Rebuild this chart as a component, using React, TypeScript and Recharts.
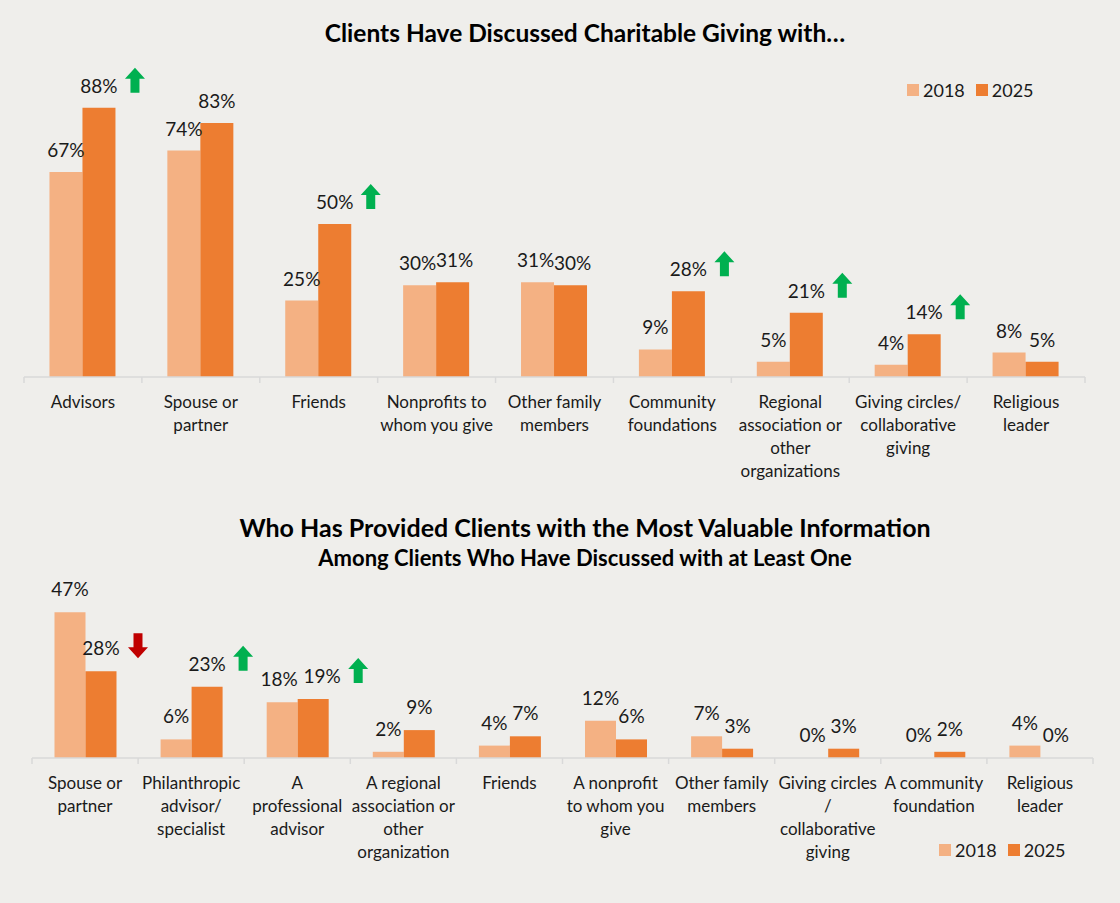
import React from "react";
import { Bar, BarChart, XAxis, YAxis } from "recharts";

// chart 1: who clients discussed charitable giving with
const topCategories = [
  "Advisors",
  "Spouse or\npartner",
  "Friends",
  "Nonprofits to\nwhom you give",
  "Other family\nmembers",
  "Community\nfoundations",
  "Regional\nassociation or\nother\norganizations",
  "Giving circles/\ncollaborative\ngiving",
  "Religious\nleader",
];
const top2018 = [67, 74, 25, 30, 31, 9, 5, 4, 8];
const top2025 = [88, 83, 50, 31, 30, 28, 21, 14, 5];
const topTrend = ["up", "", "up", "", "", "up", "up", "up", ""];

// chart 2: most valuable information
const bottomCategories = [
  "Spouse or\npartner",
  "Philanthropic\nadvisor/\nspecialist",
  "A\nprofessional\nadvisor",
  "A regional\nassociation or\nother\norganization",
  "Friends",
  "A nonprofit\nto whom you\ngive",
  "Other family\nmembers",
  "Giving circles\n/\ncollaborative\ngiving",
  "A community\nfoundation",
  "Religious\nleader",
];
const bottom2018 = [47, 6, 18, 2, 4, 12, 7, 0, 0, 4];
const bottom2025 = [28, 23, 19, 9, 7, 6, 3, 3, 2, 0];
const bottomTrend = ["down", "up", "up", "", "", "", "", "", "", ""];

const seriesNames = ["2018", "2025"];

const LIGHT = "#f4b183";
const DARK = "#ed7d31";
const AXIS = "#d9d9d9";
const BG = "#efeeeb";
const TEXT = "#1a1a1a";
const FONT = "Lato, 'Open Sans', sans-serif";

const topData = topCategories.map((name, i) => ({
  name,
  y2018: top2018[i],
  y2025: top2025[i],
}));
const bottomData = bottomCategories.map((name, i) => ({
  name,
  y2018: bottom2018[i],
  y2025: bottom2025[i],
}));

function makeTick(step: number, count: number) {
  return function Tick(props: any) {
    const { x, y, payload, index } = props;
    const lines = String(payload.value).split("\n");
    const left = x - step / 2;
    const right = x + step / 2;
    return (
      <g>
        <line x1={left} x2={left} y1={y} y2={y + 6} stroke={AXIS} strokeWidth={1.5} />
        {index === count - 1 && (
          <line x1={right} x2={right} y1={y} y2={y + 6} stroke={AXIS} strokeWidth={1.5} />
        )}
        <text x={x} y={y + 31} textAnchor="middle" fontSize={17} fill={TEXT} fontFamily={FONT}>
          {lines.map((l, i) => (
            <tspan key={i} x={x} dy={i === 0 ? 0 : 23}>
              {l}
            </tspan>
          ))}
        </text>
      </g>
    );
  };
}

function arrow(cx: number, top: number, bottom: number, dir: string) {
  const hw = 10;
  const sw = 4.5;
  const hh = 11;
  if (dir === "up") {
    return `M${cx},${top} L${cx + hw},${top + hh} L${cx + sw},${top + hh} L${cx + sw},${bottom} L${cx - sw},${bottom} L${cx - sw},${top + hh} L${cx - hw},${top + hh} Z`;
  }
  return `M${cx},${bottom} L${cx + hw},${bottom - hh} L${cx + sw},${bottom - hh} L${cx + sw},${top} L${cx - sw},${top} L${cx - sw},${bottom - hh} L${cx - hw},${bottom - hh} Z`;
}

// labels nudged sideways where they would collide (index -> px)
function makeLabel(offset: number, trend: string[] | null, nudge: Record<number, number> = {}) {
  return (props: any) => {
    const vb = props.viewBox || {};
    const x = Number(props.x ?? vb.x);
    const y = Number(props.y ?? vb.y);
    const w = Number(props.width ?? vb.width);
    const idx = props.index;
    const cx = x + w / 2 + (nudge[idx] || 0);
    const by = y - offset;
    const t = trend ? trend[idx] : "";
    return (
      <g>
        <text x={cx} y={by} textAnchor="middle" fontSize={19} fill={TEXT} fontFamily={FONT}>
          {props.value}%
        </text>
        {t === "up" && <path d={arrow(cx + 36, by - 25, by, "up")} fill="#00b050" />}
        {t === "down" && <path d={arrow(cx + 37, by - 22, by + 3, "down")} fill="#c00000" />}
      </g>
    );
  };
}

function YearLegend({ left, top }: { left: number; top: number }) {
  const colors = [LIGHT, DARK];
  return (
    <div
      style={{
        position: "absolute",
        left,
        top,
        display: "flex",
        alignItems: "center",
        height: 18,
        fontSize: 18,
        lineHeight: "18px",
        color: TEXT,
      }}
    >
      {seriesNames.map((n, i) => (
        <div key={n} style={{ display: "flex", alignItems: "center", marginRight: 11 }}>
          <span style={{ width: 12, height: 12, background: colors[i], marginRight: 4 }} />
          <span>{n}</span>
        </div>
      ))}
    </div>
  );
}

const titleStyle = (top: number, size: number): React.CSSProperties => ({
  position: "absolute",
  top,
  left: 85,
  width: 1000,
  textAlign: "center",
  fontSize: size,
  fontWeight: 700,
  lineHeight: `${size + 6}px`,
  color: "#000",
});

export default function App() {
  const topStep = (1120 - 24 - 35) / topCategories.length;
  const bottomStep = (1120 - 32 - 27) / bottomCategories.length;

  return (
    <div
      style={{
        position: "absolute",
        left: 0,
        top: 0,
        width: 1120,
        height: 903,
        background: BG,
        fontFamily: FONT,
        overflow: "hidden",
      }}
    >
      <div style={titleStyle(18, 24.5)}>Clients Have Discussed Charitable Giving with…</div>
      <div style={{ position: "absolute", left: 0, top: 0 }}>
        <BarChart
          width={1120}
          height={490}
          data={topData}
          margin={{ top: 71, right: 35, bottom: 83, left: 24 }}
          barCategoryGap="21.6%"
          barGap={0}
        >
          <XAxis
            dataKey="name"
            interval={0}
            height={30}
            tickLine={false}
            tickSize={0}
            tickMargin={0}
            axisLine={{ stroke: AXIS, strokeWidth: 1.5 }}
            tick={makeTick(topStep, topCategories.length)}
          />
          <YAxis hide domain={[0, 100]} />
          <Bar dataKey="y2018" name="2018" fill={LIGHT} minPointSize={0.01} isAnimationActive={false} label={makeLabel(15, null, { 3: -2, 4: -2 })} />
          <Bar dataKey="y2025" name="2025" fill={DARK} minPointSize={0.01} isAnimationActive={false} label={makeLabel(15, topTrend, { 3: 2, 4: 2 })} />
        </BarChart>
      </div>
      <YearLegend left={907} top={81} />

      <div style={titleStyle(512, 25)}>Who Has Provided Clients with the Most Valuable Information</div>
      <div style={titleStyle(544, 22)}>Among Clients Who Have Discussed with at Least One</div>
      <div style={{ position: "absolute", left: 0, top: 490 }}>
        <BarChart
          width={1120}
          height={413}
          data={bottomData}
          margin={{ top: 113, right: 27, bottom: 115, left: 32 }}
          barCategoryGap="21.2%"
          barGap={0}
        >
          <XAxis
            dataKey="name"
            interval={0}
            height={30}
            tickLine={false}
            tickSize={0}
            tickMargin={0}
            axisLine={{ stroke: AXIS, strokeWidth: 1.5 }}
            tick={makeTick(bottomStep, bottomCategories.length)}
          />
          <YAxis hide domain={[0, 50]} />
          <Bar dataKey="y2018" name="2018" fill={LIGHT} minPointSize={0.01} isAnimationActive={false} label={makeLabel(16, null, { 2: -3 })} />
          <Bar dataKey="y2025" name="2025" fill={DARK} minPointSize={0.01} isAnimationActive={false} label={makeLabel(16, bottomTrend, { 2: 9 })} />
        </BarChart>
      </div>
      <YearLegend left={939} top={841} />
    </div>
  );
}
